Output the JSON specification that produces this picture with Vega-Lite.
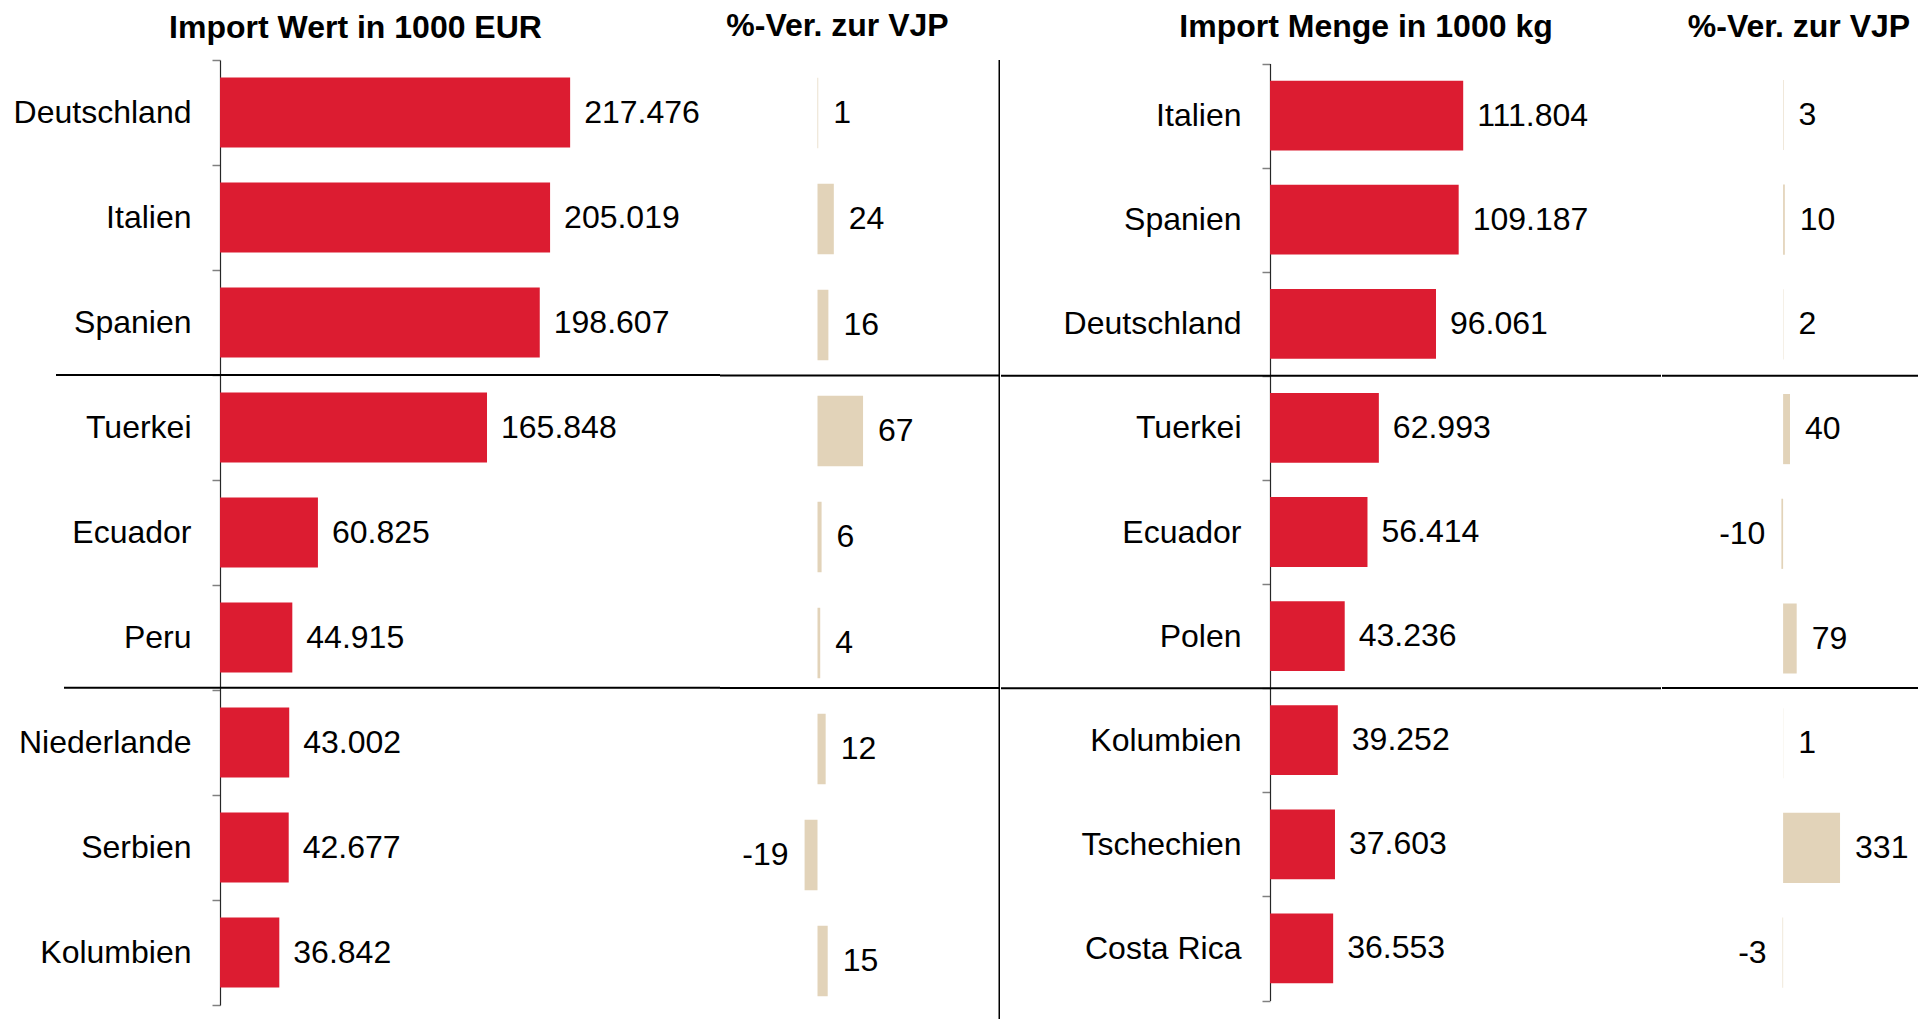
{
  "$schema": "https://vega.github.io/schema/vega-lite/v6.json",
  "padding": {"left": 0, "right": 0, "top": 9, "bottom": 0},
  "spacing": 0,
  "datasets": {
    "wert": [
      {"land": "Deutschland", "wert": 217476, "pct": 1},
      {"land": "Italien", "wert": 205019, "pct": 24},
      {"land": "Spanien", "wert": 198607, "pct": 16},
      {"land": "Tuerkei", "wert": 165848, "pct": 67},
      {"land": "Ecuador", "wert": 60825, "pct": 6},
      {"land": "Peru", "wert": 44915, "pct": 4},
      {"land": "Niederlande", "wert": 43002, "pct": 12},
      {"land": "Serbien", "wert": 42677, "pct": -19},
      {"land": "Kolumbien", "wert": 36842, "pct": 15}
    ],
    "menge": [
      {"land": "Italien", "menge": 111804, "pct": 3},
      {"land": "Spanien", "menge": 109187, "pct": 10},
      {"land": "Deutschland", "menge": 96061, "pct": 2},
      {"land": "Tuerkei", "menge": 62993, "pct": 40},
      {"land": "Ecuador", "menge": 56414, "pct": -10},
      {"land": "Polen", "menge": 43236, "pct": 79},
      {"land": "Kolumbien", "menge": 39252, "pct": 1},
      {"land": "Tschechien", "menge": 37603, "pct": 331},
      {"land": "Costa Rica", "menge": 36553, "pct": -3}
    ]
  },
  "hconcat": [
    {
      "width": 500,
      "height": 959,
      "title": {"text": "Import Wert in 1000 EUR", "anchor": "middle", "frame": "group", "dx": -114.5, "offset": -0.5},
      "data": {"name": "wert"},
      "layer": [
        {
          "mark": {"type": "bar", "color": "#DC1C31", "height": {"band": 0.665}},
          "encoding": {
            "y": {"field": "land", "type": "nominal",
              "scale": {"domain": ["Deutschland","Italien","Spanien","Tuerkei","Ecuador","Peru","Niederlande","Serbien","Kolumbien"], "range": [0, 945], "paddingInner": 0, "paddingOuter": 0},
              "axis": {"orient": "left", "title": null, "domain": true, "domainColor": "#262626", "domainWidth": 1.2, "ticks": true, "tickBand": "extent", "tickSize": 8, "tickColor": "#808080", "tickWidth": 1.5, "labelFontSize": 32, "labelColor": "#000000", "labelPadding": 21, "minExtent": 220, "maxExtent": 220, "grid": false}},
            "x": {"field": "wert", "type": "quantitative", "scale": {"domain": [0, 310559], "nice": false, "zero": false}, "axis": null}
          }
        },
        {
          "mark": {"type": "text", "align": "left", "baseline": "middle", "dx": 14, "fontSize": 32, "color": "#000000"},
          "encoding": {
            "y": {"field": "land", "type": "nominal"},
            "x": {"field": "wert", "type": "quantitative"},
            "text": {"field": "wert", "type": "quantitative", "format": ",d"}
          }
        },
        {
          "data": {"values": [{"land": "Tuerkei"}]},
          "mark": {"type": "rect", "color": "#000000"},
          "encoding": {
            "y": {"field": "land", "type": "nominal", "bandPosition": -0.0095},
            "y2": {"field": "land", "bandPosition": 0.0095},
            "x": {"datum": -101863, "type": "quantitative"},
            "x2": {"datum": 310559}
          }
        },
        {
          "data": {"values": [{"land": "Niederlande"}]},
          "mark": {"type": "rect", "color": "#000000"},
          "encoding": {
            "y": {"field": "land", "type": "nominal", "bandPosition": -0.0314},
            "y2": {"field": "land", "bandPosition": -0.0124},
            "x": {"datum": -96894, "type": "quantitative"},
            "x2": {"datum": 310559}
          }
        }
      ]
    },
    {
      "width": 280,
      "height": 959,
      "title": {"text": "%-Ver. zur VJP", "anchor": "middle", "frame": "group", "dx": -22.5, "offset": 16.5},
      "data": {"name": "wert"},
      "layer": [
        {
          "mark": {"type": "bar", "color": "#E2D3B9", "height": {"band": 0.665}},
          "encoding": {
            "y": {"field": "land", "type": "nominal",
              "scale": {"domain": ["Deutschland","Italien","Spanien","Tuerkei","Ecuador","Peru","Niederlande","Serbien","Kolumbien"], "range": [0, 954], "paddingInner": 0, "paddingOuter": 0},
              "axis": null},
            "x": {"field": "pct", "type": "quantitative", "scale": {"domain": [-143.4, 268.4], "nice": false, "zero": false}, "axis": null},
            "x2": {"datum": 0}
          }
        },
        {
          "transform": [{"filter": "datum.pct >= 0"}],
          "mark": {"type": "text", "align": "left", "baseline": "middle", "dx": 15, "fontSize": 32, "color": "#000000"},
          "encoding": {
            "y": {"field": "land", "type": "nominal"},
            "x": {"field": "pct", "type": "quantitative"},
            "text": {"field": "pct", "type": "quantitative", "format": "d"}
          }
        },
        {
          "transform": [{"filter": "datum.pct < 0"}],
          "mark": {"type": "text", "align": "right", "baseline": "middle", "dx": -16, "fontSize": 32, "color": "#000000"},
          "encoding": {
            "y": {"field": "land", "type": "nominal"},
            "x": {"field": "pct", "type": "quantitative"},
            "text": {"field": "pct", "type": "quantitative", "format": "d"}
          }
        },
        {
          "data": {"values": [{"land": "Tuerkei"}]},
          "mark": {"type": "rect", "color": "#000000"},
          "encoding": {
            "y": {"field": "land", "type": "nominal", "bandPosition": -0.0330},
            "y2": {"field": "land", "bandPosition": -0.0142},
            "x": {"datum": -143.4, "type": "quantitative"},
            "x2": {"datum": 268.4}
          }
        },
        {
          "data": {"values": [{"land": "Niederlande"}]},
          "mark": {"type": "rect", "color": "#000000"},
          "encoding": {
            "y": {"field": "land", "type": "nominal", "bandPosition": -0.0849},
            "y2": {"field": "land", "bandPosition": -0.0661},
            "x": {"datum": -143.4, "type": "quantitative"},
            "x2": {"datum": 268.4}
          }
        },
        {
          "data": {"values": [{"teil": "Trennlinie"}]},
          "mark": {"type": "rule", "color": "#000000", "strokeWidth": 1.5},
          "encoding": {
            "x": {"datum": 267.3, "type": "quantitative"}
          }
        }
      ]
    },
    {
      "width": 391,
      "height": 959,
      "title": {"text": "Import Menge in 1000 kg", "anchor": "middle", "frame": "group", "dx": -99.5, "offset": 0.5},
      "data": {"name": "menge"},
      "layer": [
        {
          "mark": {"type": "bar", "color": "#DC1C31", "height": {"band": 0.67}},
          "encoding": {
            "y": {"field": "land", "type": "nominal",
              "scale": {"domain": ["Italien","Spanien","Deutschland","Tuerkei","Ecuador","Polen","Kolumbien","Tschechien","Costa Rica"], "range": [3.5, 940.5], "paddingInner": 0, "paddingOuter": 0},
              "axis": {"orient": "left", "title": null, "domain": true, "domainColor": "#262626", "domainWidth": 1.2, "ticks": true, "tickBand": "extent", "tickSize": 8, "tickColor": "#808080", "tickWidth": 1.5, "labelFontSize": 32, "labelColor": "#000000", "labelPadding": 21, "minExtent": 269, "maxExtent": 269, "grid": false}},
            "x": {"field": "menge", "type": "quantitative", "scale": {"domain": [0, 226273], "nice": false, "zero": false}, "axis": null}
          }
        },
        {
          "mark": {"type": "text", "align": "left", "baseline": "middle", "dx": 14, "fontSize": 32, "color": "#000000"},
          "encoding": {
            "y": {"field": "land", "type": "nominal"},
            "x": {"field": "menge", "type": "quantitative"},
            "text": {"field": "menge", "type": "quantitative", "format": ",d"}
          }
        },
        {
          "data": {"values": [{"land": "Tuerkei"}]},
          "mark": {"type": "rect", "color": "#000000"},
          "encoding": {
            "y": {"field": "land", "type": "nominal", "bandPosition": -0.0096},
            "y2": {"field": "land", "bandPosition": 0.0096},
            "x": {"datum": -155671, "type": "quantitative"},
            "x2": {"datum": 226273}
          }
        },
        {
          "data": {"values": [{"land": "Kolumbien"}]},
          "mark": {"type": "rect", "color": "#000000"},
          "encoding": {
            "y": {"field": "land", "type": "nominal", "bandPosition": -0.0096},
            "y2": {"field": "land", "bandPosition": 0.0096},
            "x": {"datum": -155671, "type": "quantitative"},
            "x2": {"datum": 226273}
          }
        }
      ]
    },
    {
      "width": 258,
      "height": 959,
      "title": {"text": "%-Ver. zur VJP", "anchor": "middle", "frame": "group", "dx": 8, "offset": 16.5},
      "data": {"name": "menge"},
      "layer": [
        {
          "mark": {"type": "bar", "color": "#E2D3B9", "height": {"band": 0.67}},
          "encoding": {
            "y": {"field": "land", "type": "nominal",
              "scale": {"domain": ["Italien","Spanien","Deutschland","Tuerkei","Ecuador","Polen","Kolumbien","Tschechien","Costa Rica"], "range": [2.6, 945], "paddingInner": 0, "paddingOuter": 0},
              "axis": null},
            "x": {"field": "pct", "type": "quantitative", "scale": {"domain": [-704.1, 795.9], "nice": false, "zero": false}, "axis": null},
            "x2": {"datum": 0}
          }
        },
        {
          "transform": [{"filter": "datum.pct >= 0"}],
          "mark": {"type": "text", "align": "left", "baseline": "middle", "dx": 15, "fontSize": 32, "color": "#000000"},
          "encoding": {
            "y": {"field": "land", "type": "nominal"},
            "x": {"field": "pct", "type": "quantitative"},
            "text": {"field": "pct", "type": "quantitative", "format": "d"}
          }
        },
        {
          "transform": [{"filter": "datum.pct < 0"}],
          "mark": {"type": "text", "align": "right", "baseline": "middle", "dx": -16, "fontSize": 32, "color": "#000000"},
          "encoding": {
            "y": {"field": "land", "type": "nominal"},
            "x": {"field": "pct", "type": "quantitative"},
            "text": {"field": "pct", "type": "quantitative", "format": "d"}
          }
        },
        {
          "data": {"values": [{"land": "Tuerkei"}]},
          "mark": {"type": "rect", "color": "#000000"},
          "encoding": {
            "y": {"field": "land", "type": "nominal", "bandPosition": -0.0192},
            "y2": {"field": "land", "bandPosition": -0.0001},
            "x": {"datum": -704.1, "type": "quantitative"},
            "x2": {"datum": 795.9}
          }
        },
        {
          "data": {"values": [{"land": "Kolumbien"}]},
          "mark": {"type": "rect", "color": "#000000"},
          "encoding": {
            "y": {"field": "land", "type": "nominal", "bandPosition": -0.0376},
            "y2": {"field": "land", "bandPosition": -0.0184},
            "x": {"datum": -704.1, "type": "quantitative"},
            "x2": {"datum": 795.9}
          }
        }
      ]
    }
  ],
  "resolve": {"scale": {"x": "independent", "y": "independent"}},
  "config": {
    "font": "Liberation Sans",
    "view": {"stroke": null},
    "title": {"fontSize": 32, "fontWeight": "bold", "color": "#000000"},
    "locale": {"number": {"decimal": ",", "thousands": ".", "grouping": [3], "currency": ["", " €"], "minus": "-"}}
  }
}
